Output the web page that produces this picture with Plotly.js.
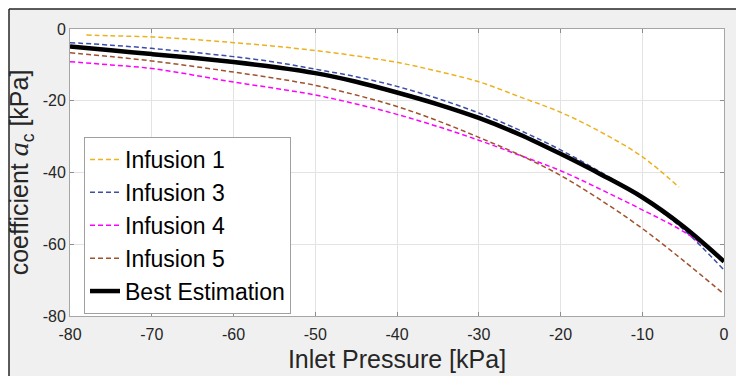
<!DOCTYPE html>
<html>
<head>
<meta charset="utf-8">
<script src="https://cdn.plot.ly/plotly-3.0.1.min.js"></script>
<style>
html,body{margin:0;padding:0;background:#fff;}
#chart{width:736px;height:376px;}
</style>
</head>
<body>
<div id="chart"></div>
<script>
// Inlet pressure [kPa]
const pressure = [-80,-75,-70,-65,-60,-55,-50,-45,-40,-35,-30,-25,-20,-15,-10,-5,0];
const pressureInf1 = [-78,-75,-70,-65,-60,-55,-50,-45,-40,-35,-30,-25,-20,-15,-10,-5.5];
// coefficient a_c [kPa]
const infusion1 = [-1.7,-1.9,-2.2,-2.9,-3.8,-4.8,-6.0,-7.5,-9.3,-11.8,-14.7,-18.9,-23.2,-28.8,-35.6,-44.1];
const infusion3 = [-3.8,-4.5,-5.4,-6.5,-7.7,-9.2,-11.2,-13.3,-16.0,-19.4,-23.4,-28.2,-33.7,-40.0,-47.1,-55.8,-67.2];
const infusion4 = [-9.1,-10.0,-11.0,-12.8,-14.8,-16.5,-18.4,-20.9,-23.8,-27.2,-31.0,-35.2,-39.5,-44.8,-50.4,-56.4,-64.5];
const infusion5 = [-6.6,-7.7,-8.9,-10.4,-12.0,-13.7,-15.7,-18.4,-21.6,-25.6,-30.2,-35.1,-40.8,-47.8,-55.6,-64.5,-73.9];
const bestEstimation = [-4.9,-5.9,-7.0,-8.0,-9.2,-10.6,-12.3,-14.7,-17.7,-21.0,-24.8,-29.4,-34.8,-40.6,-46.9,-55.0,-64.8];
const seriesNames = ['Infusion 1','Infusion 3','Infusion 4','Infusion 5','Best Estimation'];
const xTicks = [-80,-70,-60,-50,-40,-30,-20,-10,0];
const yTicks = [-80,-60,-40,-20,0];

const dashed = (x, y, name, color) => ({
  x: x, y: y, name: name, type: 'scatter', mode: 'lines',
  line: {color: color, width: 1.5, dash: '5px,3px', shape: 'spline'}
});

const traces = [
  dashed(pressureInf1, infusion1, seriesNames[0], '#EDB120'),
  dashed(pressure, infusion3, seriesNames[1], '#3B4FA8'),
  dashed(pressure, infusion4, seriesNames[2], '#FF00FF'),
  dashed(pressure, infusion5, seriesNames[3], '#A0522D'),
  {x: pressure, y: bestEstimation, name: seriesNames[4], type: 'scatter', mode: 'lines',
   line: {color: '#000000', width: 4.5, shape: 'spline'}}
];

const L = 70, R = 12, T = 29, B = 60, W = 736, H = 376;
const pw = W - L - R, ph = H - T - B;
const px = p => (p - L) / pw;
const py = p => (H - B - p) / ph;

const axisCommon = {
  showline: true, mirror: 'ticks', linecolor: '#a6a6a6', linewidth: 1,
  ticks: 'inside', ticklen: 4, tickcolor: '#8c8c8c', tickwidth: 1,
  showgrid: true, gridcolor: '#e3e3e3', gridwidth: 1, zeroline: false,
  tickfont: {family: 'Liberation Sans, Arial, sans-serif', size: 16, color: '#262626'},
  fixedrange: true
};

const layout = {
  width: W, height: H,
  margin: {l: L, r: R, t: T, b: B, pad: 0},
  paper_bgcolor: '#f0f0f0',
  plot_bgcolor: '#ffffff',
  showlegend: true,
  xaxis: Object.assign({}, axisCommon, {
    range: [-80, 0], tickvals: xTicks, ticktext: xTicks.map(String),
    ticklabelstandoff: 4,
    title: {text: 'Inlet Pressure [kPa]', standoff: 8,
            font: {family: 'Liberation Sans, Arial, sans-serif', size: 25, color: '#262626'}}
  }),
  yaxis: Object.assign({}, axisCommon, {
    range: [-80, 0], tickvals: yTicks, ticktext: yTicks.map(String),
    title: {text: "coefficient <span style='font-family:Liberation Serif, serif;font-style:italic;font-size:28px'>a</span><sub>c</sub> [kPa]", standoff: 6,
            font: {family: 'Liberation Sans, Arial, sans-serif', size: 25, color: '#262626'}}
  }),
  legend: {
    x: px(84), y: py(137), xanchor: 'left', yanchor: 'top',
    bgcolor: '#ffffff', bordercolor: '#a0a0a0', borderwidth: 1,
    font: {family: 'Liberation Sans, Arial, sans-serif', size: 23, color: '#000000'},
    tracegroupgap: 0, itemwidth: 30
  },
  shapes: [
    {type: 'rect', xref: 'paper', yref: 'paper', x0: px(0), x1: px(W + 2), y0: py(9), y1: py(-2),
     fillcolor: '#ffffff', line: {width: 0}, layer: 'below'},
    {type: 'rect', xref: 'paper', yref: 'paper', x0: px(-2), x1: px(9), y0: py(H + 2), y1: py(-2),
     fillcolor: '#ffffff', line: {width: 0}, layer: 'below'},
    {type: 'line', xref: 'paper', yref: 'paper', x0: px(9), x1: px(W + 2), y0: py(9), y1: py(9),
     line: {color: '#262626', width: 1.5}},
    {type: 'line', xref: 'paper', yref: 'paper', x0: px(9), x1: px(9), y0: py(9), y1: py(H + 2),
     line: {color: '#262626', width: 1.5}}
  ]
};

Plotly.newPlot('chart', traces, layout, {displayModeBar: false, staticPlot: true});
</script>
</body>
</html>
